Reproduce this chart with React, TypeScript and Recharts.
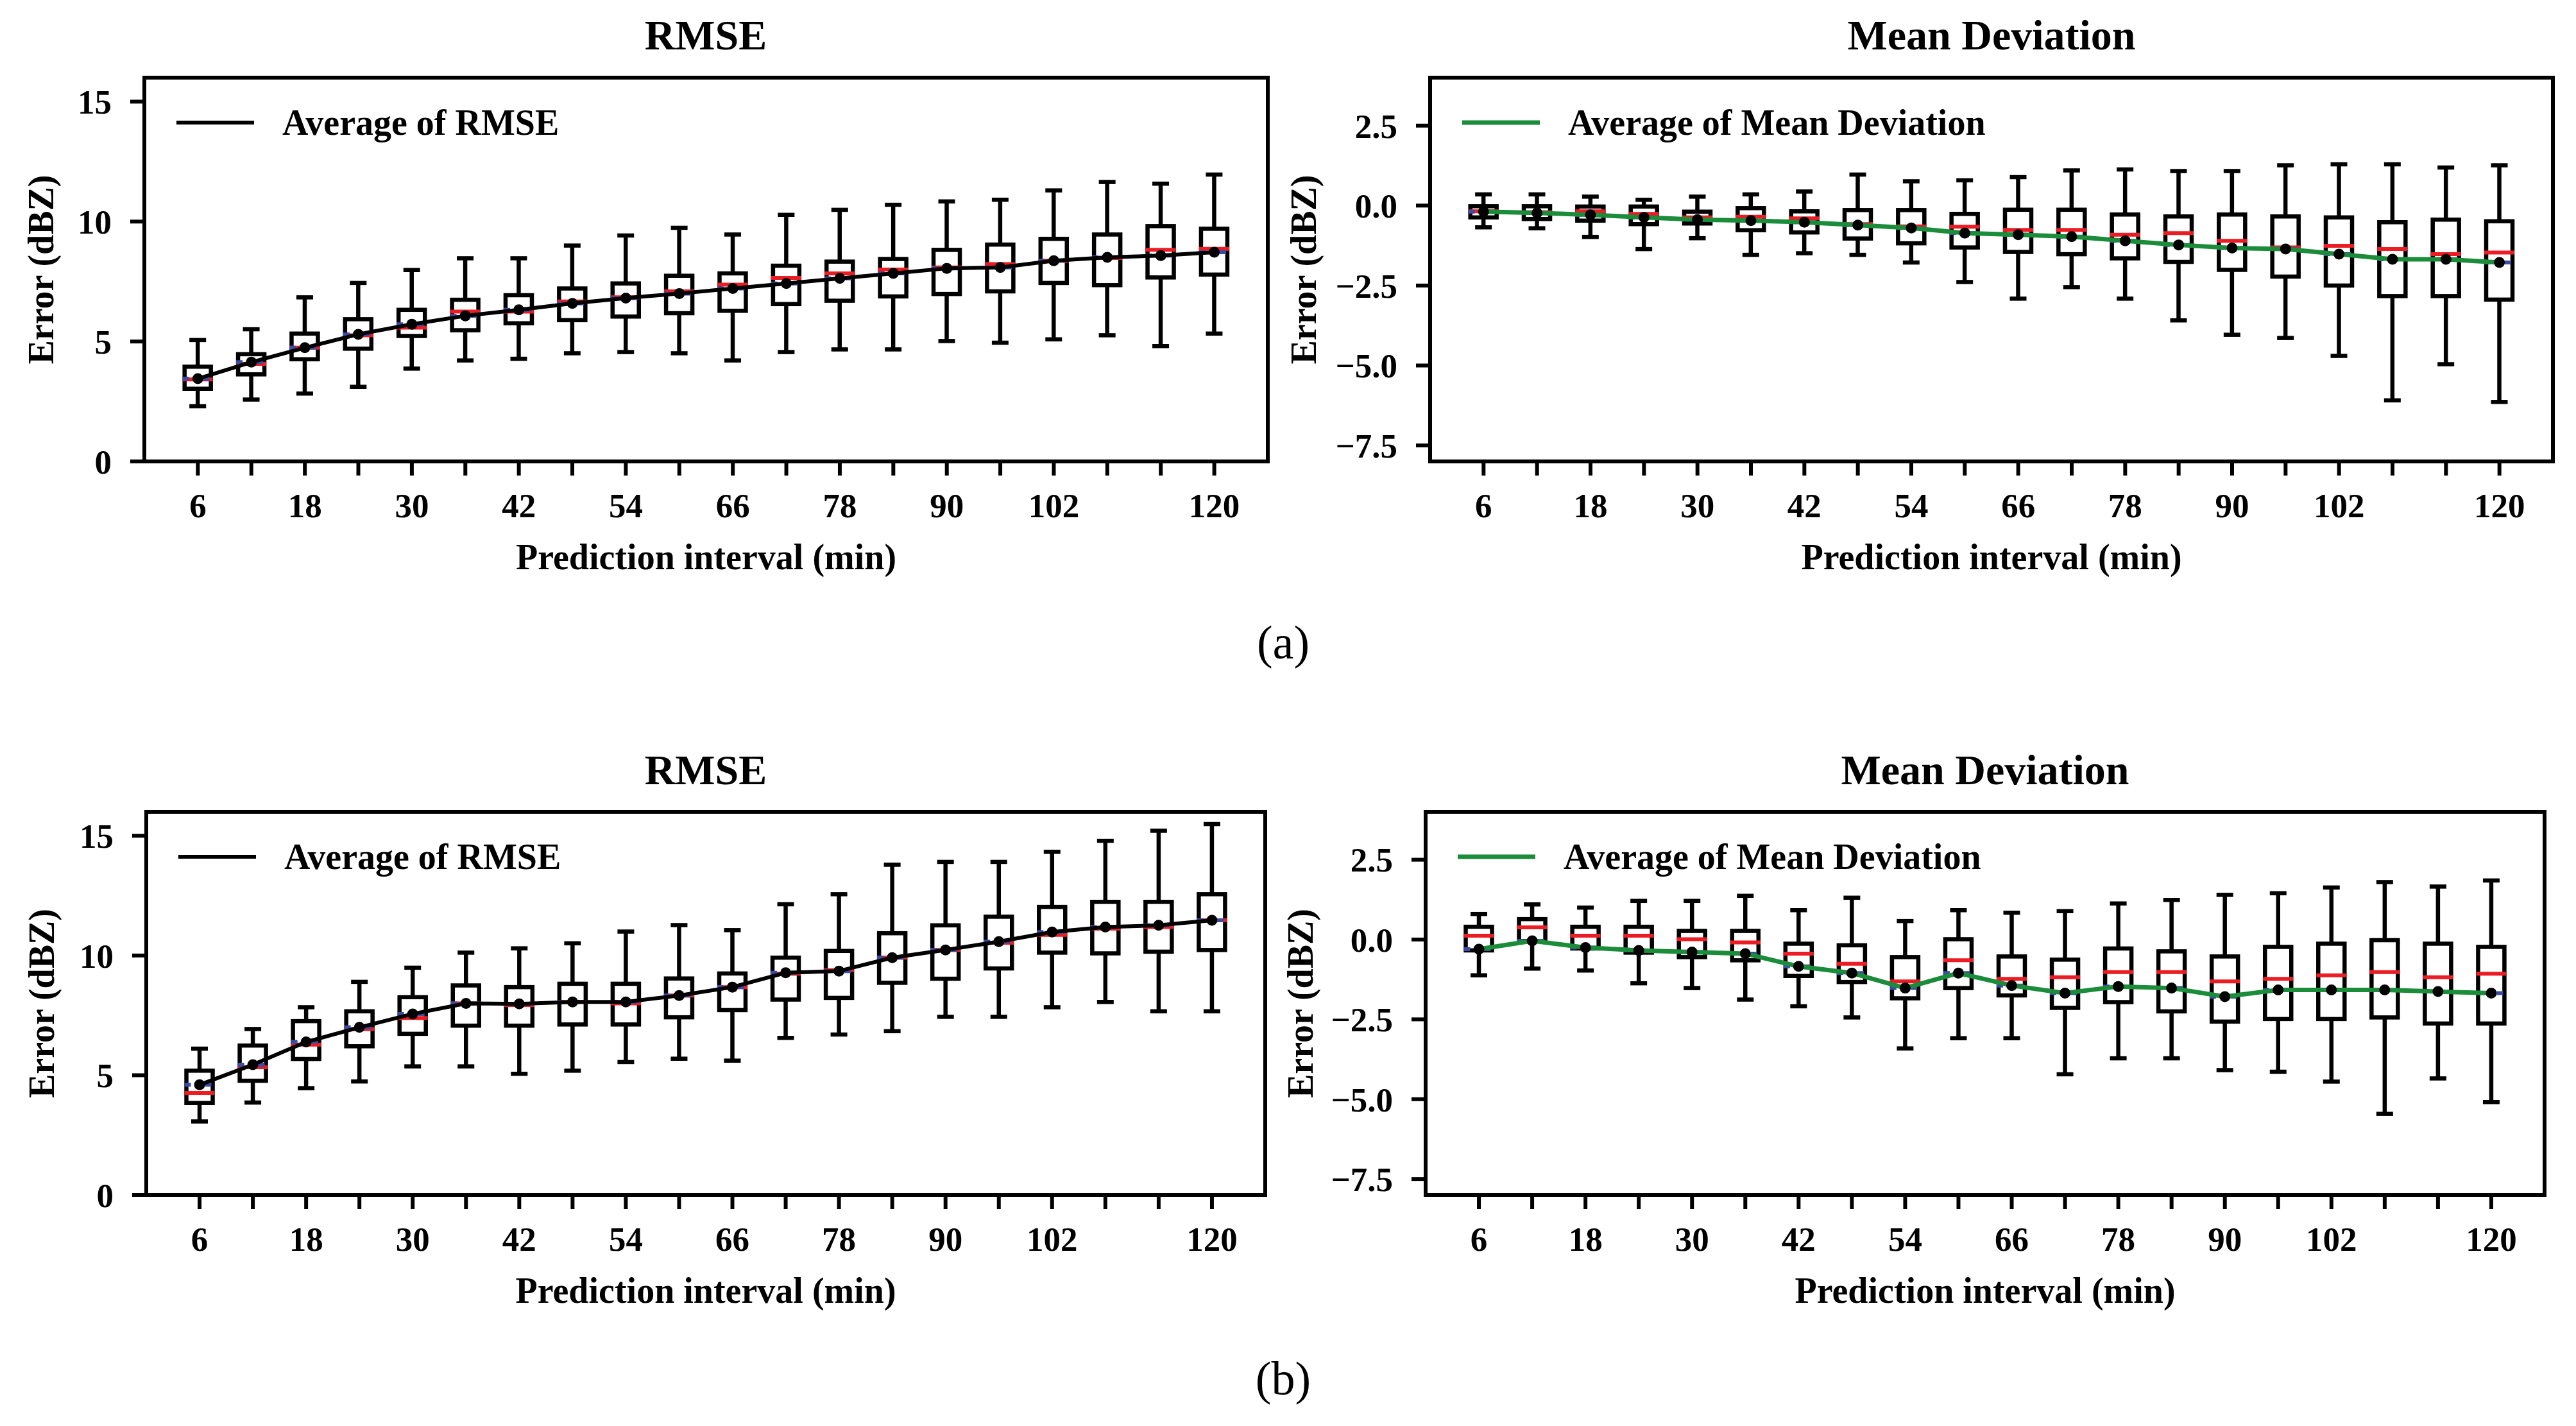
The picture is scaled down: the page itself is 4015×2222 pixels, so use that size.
import { ComposedChart, Bar, Line, XAxis, YAxis, Legend } from "recharts";

const SERIF = '"Liberation Serif", "Times New Roman", serif';

const MINUTES = [6, 12, 18, 24, 30, 36, 42, 48, 54, 60, 66, 72, 78, 84, 90, 96, 102, 108, 114, 120];
const LABELED_MINUTES = [6, 18, 30, 42, 54, 66, 78, 90, 102, 120];

const RMSE_TICKS = [0, 5, 10, 15];
const MD_TICKS = [-7.5, -5, -2.5, 0, 2.5];

// (a) RMSE
const rmseA_low = [2.3, 2.58, 2.83, 3.11, 3.87, 4.21, 4.28, 4.51, 4.56, 4.51, 4.21, 4.56, 4.67, 4.67, 5.02, 4.95, 5.09, 5.26, 4.81, 5.33];
const rmseA_q1 = [3.03, 3.63, 4.26, 4.7, 5.23, 5.47, 5.76, 5.89, 6.04, 6.18, 6.28, 6.56, 6.7, 6.88, 6.98, 7.09, 7.44, 7.35, 7.67, 7.79];
const rmseA_median = [3.42, 4.07, 4.74, 5.26, 5.58, 6.25, 6.25, 6.67, 6.84, 7.09, 7.37, 7.65, 7.84, 8.0, 8.09, 8.23, 8.37, 8.48, 8.82, 8.86];
const rmseA_mean = [3.45, 4.14, 4.74, 5.3, 5.72, 6.07, 6.32, 6.59, 6.81, 7.0, 7.21, 7.42, 7.63, 7.84, 8.05, 8.09, 8.37, 8.51, 8.58, 8.72];
const rmseA_q3 = [3.95, 4.47, 5.33, 5.93, 6.32, 6.74, 6.93, 7.21, 7.42, 7.74, 7.84, 8.16, 8.33, 8.44, 8.82, 9.04, 9.28, 9.46, 9.81, 9.7];
const rmseA_high = [5.06, 5.51, 6.84, 7.44, 7.98, 8.47, 8.47, 9.0, 9.42, 9.74, 9.46, 10.28, 10.49, 10.7, 10.84, 10.91, 11.3, 11.65, 11.58, 11.96];

// (a) Mean Deviation
const mdA_low = [-0.68, -0.71, -0.98, -1.36, -1.02, -1.54, -1.49, -1.54, -1.78, -2.39, -2.91, -2.55, -2.91, -3.59, -4.04, -4.14, -4.7, -6.09, -4.96, -6.14];
const mdA_q1 = [-0.37, -0.42, -0.47, -0.58, -0.56, -0.77, -0.84, -1.03, -1.18, -1.31, -1.45, -1.52, -1.65, -1.76, -2.01, -2.22, -2.5, -2.83, -2.83, -2.94];
const mdA_median = [-0.18, -0.21, -0.18, -0.26, -0.37, -0.35, -0.4, -0.58, -0.65, -0.66, -0.76, -0.76, -0.91, -0.86, -1.1, -1.31, -1.26, -1.36, -1.52, -1.47];
const mdA_mean = [-0.19, -0.23, -0.29, -0.37, -0.44, -0.47, -0.52, -0.61, -0.7, -0.86, -0.91, -0.97, -1.1, -1.23, -1.33, -1.36, -1.52, -1.68, -1.68, -1.78];
const mdA_q3 = [-0.02, -0.02, -0.03, -0.03, -0.19, -0.08, -0.18, -0.14, -0.14, -0.26, -0.13, -0.13, -0.28, -0.34, -0.28, -0.34, -0.37, -0.52, -0.44, -0.49];
const mdA_high = [0.35, 0.35, 0.28, 0.18, 0.28, 0.35, 0.44, 0.97, 0.76, 0.79, 0.89, 1.1, 1.13, 1.08, 1.08, 1.26, 1.29, 1.29, 1.19, 1.26];

// (b) RMSE
const rmseB_low = [3.07, 3.86, 4.46, 4.74, 5.37, 5.37, 5.06, 5.19, 5.55, 5.69, 5.61, 6.56, 6.7, 6.84, 7.44, 7.44, 7.84, 8.06, 7.67, 7.67];
const rmseB_q1 = [3.84, 4.77, 5.68, 6.21, 6.73, 7.07, 7.07, 7.12, 7.12, 7.42, 7.72, 8.16, 8.23, 8.86, 9.03, 9.46, 10.12, 10.09, 10.16, 10.23];
const rmseB_median = [4.26, 5.33, 6.28, 6.93, 7.39, 8.0, 7.93, 8.06, 8.0, 8.33, 8.68, 9.24, 9.39, 9.91, 10.23, 10.53, 10.86, 11.12, 11.19, 11.47];
const rmseB_mean = [4.6, 5.44, 6.39, 7.0, 7.56, 8.0, 7.98, 8.06, 8.06, 8.33, 8.68, 9.28, 9.35, 9.91, 10.23, 10.58, 10.98, 11.19, 11.26, 11.47];
const rmseB_q3 = [5.19, 6.24, 7.26, 7.67, 8.26, 8.75, 8.68, 8.82, 8.82, 9.04, 9.25, 9.91, 10.19, 10.93, 11.26, 11.62, 12.03, 12.24, 12.24, 12.56];
const rmseB_high = [6.11, 6.93, 7.84, 8.9, 9.49, 10.12, 10.3, 10.51, 11.0, 11.27, 11.06, 12.14, 12.56, 13.79, 13.91, 13.91, 14.33, 14.79, 15.21, 15.49];

// (b) Mean Deviation
const mdB_low = [-1.12, -0.91, -0.97, -1.37, -1.52, -1.88, -2.09, -2.44, -3.41, -3.09, -3.09, -4.22, -3.72, -3.72, -4.09, -4.14, -4.45, -5.46, -4.35, -5.09];
const mdB_q1 = [-0.34, -0.05, -0.28, -0.41, -0.55, -0.65, -1.14, -1.33, -1.84, -1.52, -1.75, -2.14, -1.96, -2.25, -2.57, -2.49, -2.49, -2.44, -2.63, -2.63];
const mdB_median = [0.12, 0.38, 0.12, 0.12, 0.01, -0.09, -0.44, -0.76, -1.31, -0.65, -1.23, -1.18, -1.02, -1.02, -1.31, -1.23, -1.12, -1.02, -1.18, -1.07];
const mdB_mean = [-0.3, -0.04, -0.25, -0.34, -0.39, -0.44, -0.84, -1.05, -1.52, -1.05, -1.44, -1.68, -1.47, -1.52, -1.79, -1.58, -1.58, -1.58, -1.63, -1.68];
const mdB_q3 = [0.4, 0.64, 0.4, 0.4, 0.27, 0.27, -0.13, -0.18, -0.55, 0.01, -0.53, -0.63, -0.28, -0.37, -0.53, -0.23, -0.13, -0.02, -0.13, -0.23];
const mdB_high = [0.8, 1.1, 1.0, 1.21, 1.21, 1.37, 0.92, 1.31, 0.58, 0.92, 0.84, 0.89, 1.13, 1.24, 1.4, 1.45, 1.63, 1.8, 1.66, 1.85];

const MEDIAN_RED = "#ec1c24";
const MEAN_BLUE = "#3b4ca6";
const AVG_GREEN = "#1b8c3a";
const STROKE = 6.5;

interface BoxRow {
  minute: number;
  whisker: [number, number];
  low: number;
  q1: number;
  median: number;
  mean: number;
  q3: number;
  high: number;
}

function buildRows(low: number[], q1: number[], median: number[], mean: number[], q3: number[], high: number[]): BoxRow[] {
  return MINUTES.map((minute, i) => ({
    minute,
    whisker: [low[i], high[i]],
    low: low[i],
    q1: q1[i],
    median: median[i],
    mean: mean[i],
    q3: q3[i],
    high: high[i],
  }));
}

// the bar spans low..high whisker; every other level is placed on the same pixel scale
function BoxWhisker(props: any) {
  const { x, y, width, height, payload } = props;
  if (!payload || !Number.isFinite(y) || !Number.isFinite(height)) return null;
  const top = Math.min(y, y + height);
  const span = Math.abs(height);
  const { low, q1, median, mean, q3, high } = payload as BoxRow;
  const toY = (v: number) => top + ((high - v) / (high - low)) * span;
  const cx = x + width / 2;
  const cap = 13;
  return (
    <g>
      <line x1={cx} x2={cx} y1={toY(high)} y2={toY(q3)} stroke="#000" strokeWidth={STROKE} />
      <line x1={cx} x2={cx} y1={toY(q1)} y2={toY(low)} stroke="#000" strokeWidth={STROKE} />
      <line x1={cx - cap} x2={cx + cap} y1={toY(high)} y2={toY(high)} stroke="#000" strokeWidth={STROKE} />
      <line x1={cx - cap} x2={cx + cap} y1={toY(low)} y2={toY(low)} stroke="#000" strokeWidth={STROKE} />
      <rect x={x} y={toY(q3)} width={width} height={toY(q1) - toY(q3)} fill="#fff" stroke="#000" strokeWidth={STROKE} />
      <line x1={x - 3} x2={x + width + 3} y1={toY(median)} y2={toY(median)} stroke={MEDIAN_RED} strokeWidth={6} />
      <line x1={x - 3} x2={x + width + 3} y1={toY(mean)} y2={toY(mean)} stroke={MEAN_BLUE} strokeWidth={6} strokeDasharray="10 6" />
    </g>
  );
}

const rmseFormat = (v: number) => String(v);
const mdFormat = (v: number) => (v < 0 ? "\u2212" : "") + Math.abs(v).toFixed(1);

interface PanelProps {
  left: number;
  top: number;
  width: number;
  height: number;
  plot: { l: number; r: number; t: number; b: number };
  yLabelX: number;
  data: BoxRow[];
  domain: [number, number];
  ticks: number[];
  tickFormat: (v: number) => string;
  lineColor: string;
  lineWidth: number;
  legendLabel: string;
}

const tickFont = { fill: "#000", fontSize: 53, fontWeight: "bold", fontFamily: SERIF };
const labelFont = { fill: "#000", fontSize: 56, fontWeight: "bold", fontFamily: SERIF };
const frameLine = { stroke: "#000", strokeWidth: 6, strokeLinecap: "square" as const };
const tickLine = { stroke: "#000", strokeWidth: 6 };

function BoxPanel(p: PanelProps) {
  const marginLeft = 10;
  const xAxisHeight = 168;
  const yAxisWidth = p.plot.l - p.left - marginLeft;
  // top x axis and right y axis only draw the closing frame lines (1px of reserved space each)
  const margin = {
    top: p.plot.t - p.top - 1,
    left: marginLeft,
    right: p.left + p.width - p.plot.r - 1,
    bottom: p.top + p.height - (p.plot.b + xAxisHeight),
  };
  const pad = (p.plot.r - p.plot.l) / 42;

  const legendContent = () => (
    <div style={{ display: "flex", alignItems: "center", height: 56 }}>
      <svg width={121} height={12}>
        <line x1={0} x2={121} y1={6} y2={6} stroke={p.lineColor} strokeWidth={p.lineWidth} />
      </svg>
      <span style={{ marginLeft: 44, fontFamily: SERIF, fontWeight: "bold", fontSize: 56, lineHeight: 1, color: "#000", whiteSpace: "nowrap" }}>
        {p.legendLabel}
      </span>
    </div>
  );

  return (
    <div style={{ position: "absolute", left: p.left, top: p.top }}>
      <ComposedChart width={p.width} height={p.height} data={p.data} margin={margin}>
        <XAxis
          dataKey="minute"
          type="category"
          ticks={MINUTES}
          interval={0}
          padding={{ left: pad, right: pad }}
          height={xAxisHeight}
          tickSize={22}
          tickMargin={27}
          tickLine={tickLine}
          axisLine={frameLine}
          tick={tickFont}
          tickFormatter={(v: number) => (LABELED_MINUTES.includes(v) ? String(v) : "")}
          label={{ value: "Prediction interval (min)", position: "insideBottom", offset: 0, style: labelFont }}
        />
        <XAxis
          xAxisId="frame"
          dataKey="minute"
          type="category"
          orientation="top"
          height={1}
          tick={false}
          tickLine={false}
          axisLine={frameLine}
        />
        <YAxis
          type="number"
          domain={p.domain}
          ticks={p.ticks}
          allowDataOverflow
          width={yAxisWidth}
          tickSize={22}
          tickMargin={29}
          tickLine={tickLine}
          axisLine={frameLine}
          tick={tickFont}
          tickFormatter={p.tickFormat}
          label={{
            value: "Error (dBZ)",
            angle: -90,
            position: "insideLeft",
            offset: p.yLabelX - p.left - marginLeft,
            style: { ...labelFont, textAnchor: "middle" },
          }}
        />
        <YAxis
          yAxisId="frame"
          type="number"
          domain={[0, 1]}
          orientation="right"
          width={1}
          tick={false}
          tickLine={false}
          axisLine={frameLine}
        />
        <Legend
          layout="vertical"
          verticalAlign="middle"
          align="center"
          wrapperStyle={{ left: p.plot.l - p.left + 50, top: p.plot.t - p.top + 70 - 28, width: 1300, height: 56 }}
          content={legendContent}
        />
        <Bar dataKey="whisker" barSize={41} shape={BoxWhisker} legendType="none" isAnimationActive={false} />
        {/* keeps the frame axes attached to a series */}
        <Line xAxisId="frame" yAxisId="frame" dataKey={() => null} stroke="none" dot={false} activeDot={false} legendType="none" isAnimationActive={false} />
        <Line
          type="linear"
          dataKey="mean"
          stroke={p.lineColor}
          strokeWidth={p.lineWidth}
          dot={{ r: 8.5, fill: "#000", stroke: "none" }}
          activeDot={false}
          legendType="none"
          isAnimationActive={false}
        />
      </ComposedChart>
    </div>
  );
}

function Heading({ text, cx, top, size, bold }: { text: string; cx: number; top: number; size: number; bold: boolean }) {
  return (
    <div
      style={{
        position: "absolute",
        left: cx - 600,
        top,
        width: 1200,
        textAlign: "center",
        fontFamily: SERIF,
        fontSize: size,
        fontWeight: bold ? "bold" : "normal",
        lineHeight: 1,
        color: "#000",
      }}
    >
      {text}
    </div>
  );
}

const rowsRmseA = buildRows(rmseA_low, rmseA_q1, rmseA_median, rmseA_mean, rmseA_q3, rmseA_high);
const rowsMdA = buildRows(mdA_low, mdA_q1, mdA_median, mdA_mean, mdA_q3, mdA_high);
const rowsRmseB = buildRows(rmseB_low, rmseB_q1, rmseB_median, rmseB_mean, rmseB_q3, rmseB_high);
const rowsMdB = buildRows(mdB_low, mdB_q1, mdB_median, mdB_mean, mdB_q3, mdB_high);

export default function App() {
  return (
    <div style={{ position: "absolute", left: 0, top: 0, width: 4015, height: 2222, background: "#fff", overflow: "hidden" }}>
      <Heading text="RMSE" cx={1100} top={22} size={66} bold />
      <Heading text="Mean Deviation" cx={3104} top={22} size={66} bold />
      <Heading text="(a)" cx={2000} top={964} size={74} bold={false} />
      <Heading text="RMSE" cx={1100} top={1167} size={66} bold />
      <Heading text="Mean Deviation" cx={3094} top={1167} size={66} bold />
      <Heading text="(b)" cx={2000} top={2111} size={74} bold={false} />

      <BoxPanel
        left={0}
        top={0}
        width={1990}
        height={900}
        plot={{ l: 225, r: 1976, t: 121, b: 719 }}
        yLabelX={63}
        data={rowsRmseA}
        domain={[0, 16]}
        ticks={RMSE_TICKS}
        tickFormat={rmseFormat}
        lineColor="#000"
        lineWidth={6}
        legendLabel="Average of RMSE"
      />
      <BoxPanel
        left={1990}
        top={0}
        width={2025}
        height={900}
        plot={{ l: 2229, r: 3979, t: 121, b: 719 }}
        yLabelX={2031}
        data={rowsMdA}
        domain={[-8, 4]}
        ticks={MD_TICKS}
        tickFormat={mdFormat}
        lineColor={AVG_GREEN}
        lineWidth={7}
        legendLabel="Average of Mean Deviation"
      />
      <BoxPanel
        left={0}
        top={1144}
        width={1990}
        height={900}
        plot={{ l: 228, r: 1972, t: 1265, b: 1862 }}
        yLabelX={64}
        data={rowsRmseB}
        domain={[0, 16]}
        ticks={RMSE_TICKS}
        tickFormat={rmseFormat}
        lineColor="#000"
        lineWidth={6}
        legendLabel="Average of RMSE"
      />
      <BoxPanel
        left={1990}
        top={1144}
        width={2025}
        height={900}
        plot={{ l: 2222, r: 3966, t: 1265, b: 1862 }}
        yLabelX={2026}
        data={rowsMdB}
        domain={[-8, 4]}
        ticks={MD_TICKS}
        tickFormat={mdFormat}
        lineColor={AVG_GREEN}
        lineWidth={7}
        legendLabel="Average of Mean Deviation"
      />
    </div>
  );
}
